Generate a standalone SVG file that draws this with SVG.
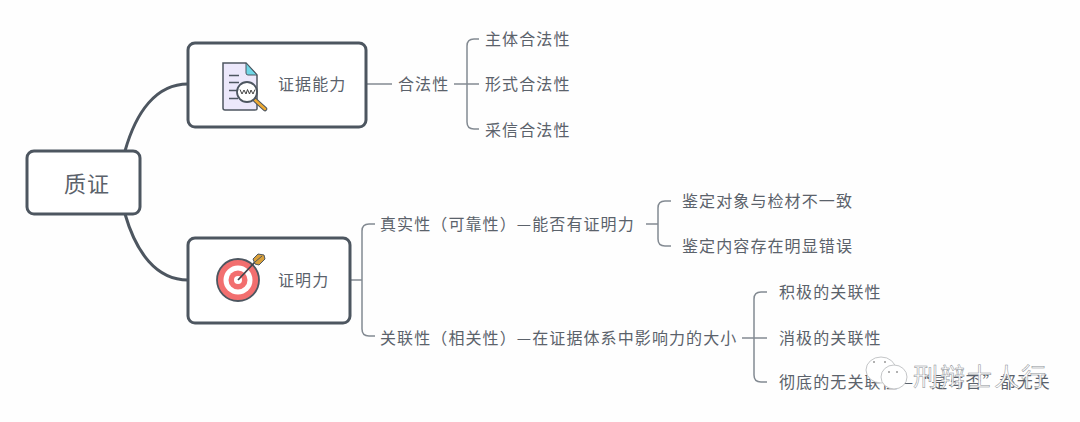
<svg xmlns="http://www.w3.org/2000/svg" width="1080" height="422" viewBox="0 0 1080 422">
<style>
text{font-family:"Noto Sans CJK SC","Noto Sans",sans-serif;fill:#5b626b;font-size:16px;letter-spacing:1.1px;dominant-baseline:central}
.box{fill:#fff;stroke:#4d5660;stroke-width:3}
.main{fill:none;stroke:#4d5660;stroke-width:3}
.thin{fill:none;stroke:#838a92;stroke-width:1.5}
.wm{font-size:25px;letter-spacing:2px;fill:#fff;stroke:#8a8f94;stroke-width:.5}
.bubble{fill:#fff;stroke:#c4c6c8;stroke-width:1}
</style>
<rect width="1080" height="422" fill="#fefefe"/>
<g id="connectors">
<path class="main" d="M125 151C136 112 156 84 188 84"/>
<path class="main" d="M125 214C136 252 156 280 188 280"/>
<path class="thin" d="M366 84H392"/>
<path class="thin" d="M454 84H479"/>
<path class="thin" d="M479 39H474Q467 39 467 46V122Q467 129 474 129H479"/>
<path class="thin" d="M350 280H362"/>
<path class="thin" d="M375 224H369Q362 224 362 231V329Q362 336 369 336H375"/>
<path class="thin" d="M646 224H658"/>
<path class="thin" d="M671 201H665Q658 201 658 208V239Q658 246 665 246H671"/>
<path class="thin" d="M742 338H767"/>
<path class="thin" d="M767 292H761Q754 292 754 299V375Q754 382 761 382H767"/>
</g>
<g id="root"><rect class="box" x="27" y="151" width="113" height="63" rx="7"/><text x="64" y="182" style="font-size:22px;letter-spacing:1px">质证</text></g>
<g id="capacity"><rect class="box" x="188" y="43" width="178" height="84" rx="7"/>
<path d="M223 63H246L257 75V109Q257 110 255 110H225Q223 110 223 108Z" fill="#ece8fb" stroke="#4d5660" stroke-width="1.5"/>
<path d="M246 63L257 75H248Q246 75 246 73Z" fill="#6fd6e6" stroke="#4d5660" stroke-width="1"/>
<path d="M229 75.500H239M229 82.500H239M229 90.500H238M229 98.500H238" stroke="#4d5660" stroke-width="1.500" fill="none"/>
<path d="M255 100L265 109" stroke="#4d5660" stroke-width="4.500" stroke-linecap="round"/><path d="M255 100L265 109" stroke="#eeaa33" stroke-width="2.500" stroke-linecap="round"/>
<circle cx="247" cy="92" r="10" fill="#fff" stroke="#4d5660" stroke-width="1.800"/>
<path d="M240 89.500L242 94L244 90L246 94L247.500 89.500M247.500 89.500L249.500 94L251 90L253 94L255 89.500" fill="none" stroke="#444" stroke-width="1"/>
<text x="278" y="83">证据能力</text></g>
<g id="probative"><rect class="box" x="188" y="238" width="162" height="85" rx="7"/>
<circle cx="238" cy="280" r="21" fill="#f26f6f" stroke="#4d5660" stroke-width="1.800"/>
<circle cx="238" cy="280" r="14.500" fill="#fff"/><circle cx="238" cy="280" r="9.500" fill="#f26f6f"/><circle cx="238" cy="280" r="4" fill="#fff"/>
<path d="M238 280L255 262" stroke="#3f454c" stroke-width="1.800"/>
<path d="M253 259L258 254L264 255L265 259L259 265L255 264Z" fill="#d9a03a" stroke="#4d5660" stroke-width="1"/>
<path d="M255 262L262 256" stroke="#4d5660" stroke-width="1"/>
<text x="278" y="279">证明力</text></g>
<g id="legal"><text x="398" y="83">合法性</text></g>
<g id="legal-1"><text x="485" y="38">主体合法性</text></g>
<g id="legal-2"><text x="485" y="83">形式合法性</text></g>
<g id="legal-3"><text x="485" y="128.500">采信合法性</text></g>
<g id="real"><text x="380" y="223">真实性（可靠性）—能否有证明力</text></g>
<g id="real-1"><text x="682" y="200">鉴定对象与检材不一致</text></g>
<g id="real-2"><text x="682" y="245">鉴定内容存在明显错误</text></g>
<g id="rel"><text x="380" y="337">关联性（相关性）—在证据体系中影响力的大小</text></g>
<g id="rel-1"><text x="779" y="291">积极的关联性</text></g>
<g id="rel-2"><text x="779" y="337">消极的关联性</text></g>
<g id="rel-3"><text x="779" y="381">彻底的无关联性—“是与否”都无关</text></g>
<g id="watermark">
<ellipse class="bubble" cx="881" cy="370" rx="15" ry="13"/><circle cx="874" cy="362" r="1" fill="#999"/><circle cx="885" cy="362" r="1" fill="#999"/>
<ellipse class="bubble" cx="894" cy="377" rx="13" ry="12"/><circle cx="889" cy="372" r="1" fill="#999"/><circle cx="897" cy="372" r="1" fill="#999"/>
<text class="wm" x="913" y="375">刑辩士人行</text></g>
</svg>
